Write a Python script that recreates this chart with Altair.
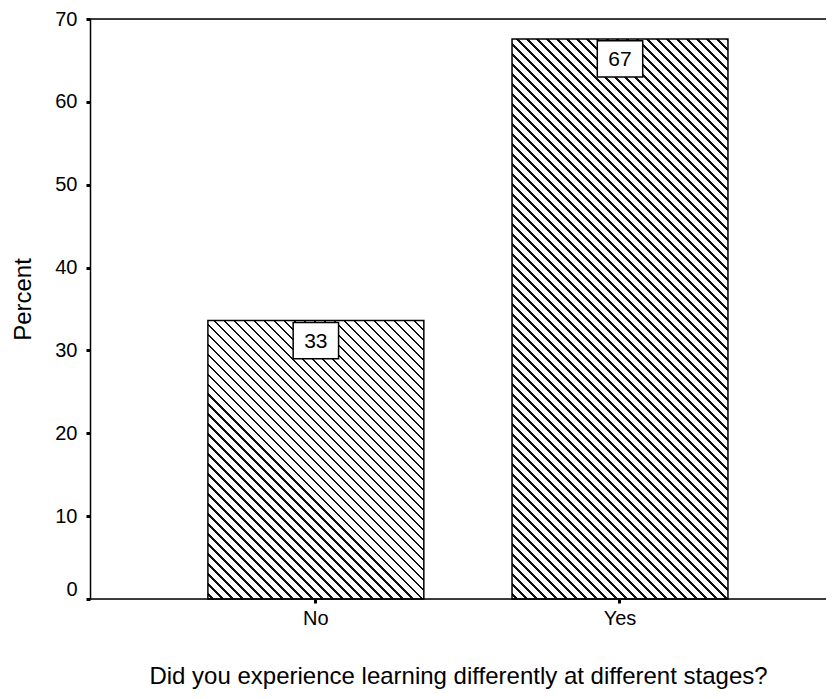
import math
import altair as alt
import pandas as pd

# ---- data ----
categories = ["No", "Yes"]
percents = [33.6, 67.6]
labels = ["33", "67"]
y_ticks = [0, 10, 20, 30, 40, 50, 60, 70]

x_title = "Did you experience learning differently at different stages?"
y_title = "Percent"

df = pd.DataFrame({"cat": categories, "pct": percents, "lab": labels})

# ---- layout (styling) ----
W, H = 736, 580
YMAX = 70
P_INNER, P_OUTER, ALIGN = 0.29, 0.355, 0.546
FONT = "Liberation Sans"

step = W / (len(categories) - P_INNER + 2 * P_OUTER)
bandwidth = step * (1 - P_INNER)


def hatch(bw, bh, period=7.07, lw=1.6):
    """Diagonal '\\' hatch built as a hard-stop linear gradient (bbox units)."""
    r = bh / bw
    k = bw * (1 + r * r) / math.sqrt(2)  # pixels per unit of gradient offset
    tmax = min(1.0, (1 + r) / (1 + r * r))
    stops = []
    c = period / 2
    while (c + lw / 2) / k < tmax:
        a = round((c - lw / 2) / k, 6)
        b = round((c + lw / 2) / k, 6)
        stops += [
            {"offset": a, "color": "#ffffff"},
            {"offset": a, "color": "#111111"},
            {"offset": b, "color": "#111111"},
            {"offset": b, "color": "#ffffff"},
        ]
        c += period
    return {"gradient": "linear", "x1": 0, "y1": 1, "x2": 1, "y2": 1 - r, "stops": stops}


x_enc = alt.X(
    "cat:N",
    sort=categories,
    scale=alt.Scale(paddingInner=P_INNER, paddingOuter=P_OUTER, align=ALIGN),
    axis=alt.Axis(
        title=x_title,
        labelAngle=0,
        domain=False,
        ticks=True,
        tickSize=4,
        tickWidth=3,
        tickColor="black",
        labelPadding=5,
        labelFontSize=20,
        labelColor="black",
        labelFont=FONT,
        titleFont=FONT,
        titleFontSize=24,
        titleFontWeight="normal",
        titleColor="black",
        titleX=368,
        titleY=84,
        titleAlign="center",
        titleBaseline="alphabetic",
        grid=False,
    ),
)

y_enc = alt.Y(
    "pct:Q",
    scale=alt.Scale(domain=[0, YMAX], nice=False, zero=True),
    axis=alt.Axis(
        title=y_title,
        values=y_ticks,
        domain=True,
        domainColor="black",
        domainWidth=1.5,
        tickSize=4,
        tickWidth=3,
        tickColor="black",
        labelPadding=9,
        labelFontSize=20,
        labelColor="black",
        labelFont=FONT,
        labelBaseline={"condition": {"test": "datum.value === 0", "value": "bottom"}, "value": "middle"},
        titleFont=FONT,
        titleFontSize=24,
        titleFontWeight="normal",
        titleColor="black",
        titleX=-60,
        titleY=280,
        titleAngle=-90,
        titleAlign="center",
        titleBaseline="alphabetic",
        grid=False,
    ),
)

base = alt.Chart(df).encode(x=x_enc, y=y_enc)

bar_layers = []
for cat, val in zip(categories, percents):
    bh = val / YMAX * H
    bar_layers.append(
        base.mark_bar(fill=hatch(bandwidth, bh), stroke="black", strokeWidth=1.5)
        .transform_filter(alt.datum.cat == cat)
    )

box = base.mark_point(
    shape="M-1.25,-1L1.25,-1L1.25,1L-1.25,1Z",
    size=1320,
    filled=True,
    fill="white",
    stroke="black",
    strokeWidth=1.5,
    opacity=1,
    yOffset=20,
)

text = base.mark_text(
    font=FONT, fontSize=21, color="black", baseline="middle", align="center", yOffset=21
).encode(text="lab:N")

frame_df = pd.DataFrame({"k": [0]})
top_rule = alt.Chart(frame_df).mark_rule(color="black", strokeWidth=1.5).encode(
    x=alt.value(0), x2=alt.value(W), y=alt.value(0)
)
bottom_rule = alt.Chart(frame_df).mark_rule(color="black", strokeWidth=1.5).encode(
    x=alt.value(0), x2=alt.value(W), y=alt.value(H)
)

chart = (
    alt.layer(*bar_layers, box, text, top_rule, bottom_rule)
    .properties(
        width=W,
        height=H,
        autosize=alt.AutoSizeParams(type="none"),
        padding={"left": 82, "top": 11, "right": 0, "bottom": 91},
    )
    .configure_view(strokeWidth=0, stroke="transparent")
    .configure(background="white")
)

chart.save("out.html", embed_options={"renderer": "svg", "actions": False})
